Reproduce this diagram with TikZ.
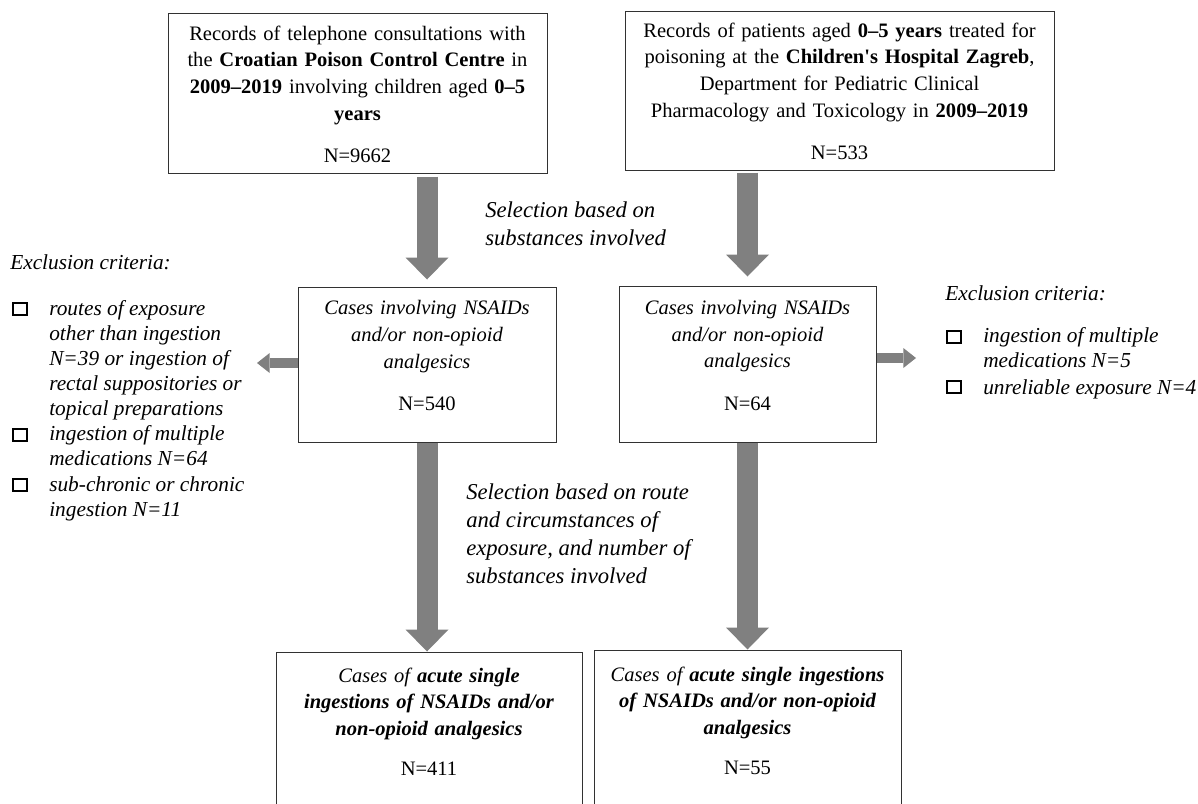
\documentclass[tikz,border=0pt]{standalone}
\usepackage{fontspec}
\setmainfont{Liberation Serif}
\usetikzlibrary{arrows.meta}
\definecolor{arrowgray}{RGB}{128,128,128}
\definecolor{edgegray}{RGB}{50,50,50}
\newcommand{\tickbox}[2]{\draw[line width=0.8pt] (#1,#2) rectangle ++(14,12); \draw[line width=1.8pt] (#1,#2+12) -- ++(14,0);}
\newcommand{\padbelow}[1]{\\[#1]\mbox{}}
\tikzset{
  recbox/.style={draw=edgegray, line width=0.75pt, align=center, inner sep=0pt,
    font=\fontsize{15.4}{20}\selectfont},
  crittext/.style={align=left, inner sep=0pt, font=\fontsize{16}{18.75}\selectfont\itshape},
  seltext/.style={align=left, inner sep=0pt, font=\fontsize{17}{21}\selectfont\itshape},
  fatarrow/.style={arrowgray, line width=15.75pt, -{Triangle[width=32.25pt,length=16.5pt,line width=0pt]}},
  sidearrow/.style={arrowgray, line width=8pt, -{Triangle[width=15pt,length=9.5pt,line width=0pt]}},
}

\begin{document}
\begin{tikzpicture}[x=0.75pt,y=-0.75pt]
\useasboundingbox (0,0) rectangle (1198,803);
\clip (0,0) rectangle (1198,803);
% sources
\node[recbox, minimum width=284.25pt, minimum height=120pt, text width=270pt] (srcpcc) at (357.5,93)
  {Records of telephone consultations with\\ the \textbf{Croatian Poison Control Centre} in\\ \textbf{2009–2019} involving children aged \textbf{0–5}\\ \textbf{years}\\[12pt] N=9662\padbelow{-22pt}};
\node[recbox, minimum width=321.75pt, minimum height=119.25pt, text width=307.5pt] (srchosp) at (839.5,90.5)
  {Records of patients aged \textbf{0–5 years} treated for\\ poisoning at the \textbf{Children\textquotesingle s Hospital Zagreb},\\ Department for Pediatric Clinical\\ Pharmacology and Toxicology in \textbf{2009–2019}\\[12pt] N=533\padbelow{-21pt}};
% after substance selection
\node[recbox, minimum width=193.5pt, minimum height=116.25pt, text width=180pt] (nsaidpcc) at (427,364.5)
  {\itshape Cases involving NSAIDs\\ \itshape and/or non-opioid\\ \itshape analgesics\\[12pt] \upshape N=540\padbelow{-7pt}};
\node[recbox, minimum width=192.75pt, minimum height=117pt, text width=180pt] (nsaidhosp) at (747.5,364)
  {\itshape Cases involving NSAIDs\\ \itshape and/or non-opioid\\ \itshape analgesics\\[12pt] \upshape N=64\padbelow{-7pt}};
% final groups
\node[recbox, minimum width=229.5pt, minimum height=126pt, text width=217.5pt] (finalpcc) at (429,736)
  {\itshape Cases of \textbf{acute single}\\ \itshape\bfseries ingestions of NSAIDs and/or\\ \itshape\bfseries non-opioid analgesics\\[10pt] \upshape\mdseries N=411\padbelow{1.5pt}};
\node[recbox, minimum width=230.25pt, minimum height=127.5pt, text width=217.5pt] (finalhosp) at (747.5,735)
  {\itshape Cases of \textbf{acute single ingestions}\\ \itshape\bfseries of NSAIDs and/or non-opioid\\ \itshape\bfseries analgesics\\[10pt] \upshape\mdseries N=55\padbelow{1.5pt}};

% selection notes
\node[seltext, anchor=north west] (selsub) at (485,202) {Selection based on\\ substances involved};
\node[seltext, anchor=north west] (selroute) at (466,483) {Selection based on route\\ and circumstances of\\ exposure, and number of\\ substances involved};

% exclusion criteria, left
\node[crittext, anchor=west] (exclpcc) at (10,262) {Exclusion criteria:};
\node[crittext, anchor=north west] (critpcca) at (49,300) {routes of exposure\\ other than ingestion\\ N=39 or ingestion of\\ rectal suppositories or\\ topical preparations};
\node[crittext, anchor=north west] (critpccb) at (49,425) {ingestion of multiple\\ medications N=64};
\node[crittext, anchor=north west] (critpccc) at (49,476) {sub-chronic or chronic\\ ingestion N=11};
\tickbox{13}{303}\tickbox{13}{429}\tickbox{13}{479}
% exclusion criteria, right
\node[crittext, anchor=west] (exclhosp) at (945,293) {Exclusion criteria:};
\node[crittext, anchor=north west] (crithospa) at (983,327) {ingestion of multiple\\ medications N=5};
\node[crittext, anchor=north west] (crithospb) at (983,379) {unreliable exposure N=4};
\tickbox{947}{331}\tickbox{947}{381}

% arrows
\coordinate (lefttip) at (257,363);
\coordinate (righttip) at (916,358);
\draw[fatarrow, shorten <=2.25pt, shorten >=5.25pt] (srcpcc.south -| nsaidpcc.north) -- (nsaidpcc.north);
\draw[fatarrow, shorten <=1.5pt, shorten >=6.75pt] (srchosp.south -| nsaidhosp.north) -- (nsaidhosp.north);
\draw[fatarrow] (nsaidpcc.south) -- (nsaidpcc.south |- finalpcc.north);
\draw[fatarrow] (nsaidhosp.south) -- (nsaidhosp.south |- finalhosp.north);
\draw[sidearrow] (nsaidpcc.west |- lefttip) -- (lefttip);
\draw[sidearrow] (nsaidhosp.east |- righttip) -- (righttip);
\end{tikzpicture}
\end{document}
